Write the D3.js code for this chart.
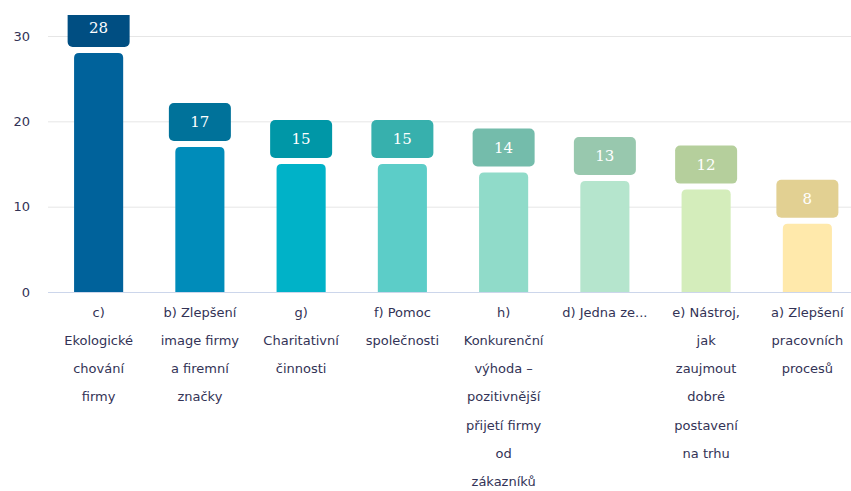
<!DOCTYPE html>
<html><head><meta charset="utf-8">
<script src="https://cdn.jsdelivr.net/npm/d3@7"></script>
<style>body{margin:0;background:#fff}svg{display:block}</style>
</head><body>
<svg id="c" width="851" height="491"></svg>
<script>
const categories = [
  "c)\nEkologické\nchování\nfirmy",
  "b) Zlepšení\nimage firmy\na firemní\nznačky",
  "g)\nCharitativní\nčinnosti",
  "f) Pomoc\nspolečnosti",
  "h)\nKonkurenční\nvýhoda –\npozitivnější\npřijetí firmy\nod\nzákazníků",
  "d) Jedna ze...",
  "e) Nástroj,\njak\nzaujmout\ndobré\npostavení\nna trhu",
  "a) Zlepšení\npracovních\nprocesů"
];
const values = [28, 17, 15, 15, 14, 13, 12, 8];
const barColors = ["#00629b", "#008cba", "#00b2c8", "#5ccdc8", "#90dbc9", "#b5e5cd", "#d4edbb", "#ffe9ab"];
const boxColors = ["#004e82", "#00729a", "#0097a7", "#37b0ad", "#74bcab", "#98c8ae", "#b5cf9c", "#e2d092"];
const yTicks = [0, 10, 20, 30];

const svg = d3.select("#c");
const x = d3.scaleBand().domain(categories).range([48, 858]).paddingInner(0.515).paddingOuter(0.2575);
const y = d3.scaleLinear().domain([0, 30]).range([292, 36]);

svg.append("defs").append("clipPath").attr("id", "clip")
  .append("rect").attr("x", 48).attr("y", 15).attr("width", 810).attr("height", 300);

// grid
svg.append("g").selectAll("line").data(yTicks.filter(d => d > 0)).join("line")
  .attr("x1", 48).attr("x2", 851).attr("y1", d => y(d) + 0.5).attr("y2", d => y(d) + 0.5)
  .attr("stroke", "#e6e6e6").attr("stroke-width", 1);

// y labels
svg.append("g").selectAll("text").data(yTicks).join("text")
  .attr("x", 30).attr("y", d => y(d)).attr("dy", "0.35em").attr("text-anchor", "end")
  .attr("font-family", "'DejaVu Sans', sans-serif").attr("font-size", 13).attr("fill", "#333356")
  .text(d => d);

const g = svg.append("g").attr("clip-path", "url(#clip)");
const r = 5;
// bars with rounded top corners
g.selectAll("path.bar").data(values).join("path").attr("class", "bar")
  .attr("fill", (d, i) => barColors[i])
  .attr("d", (d, i) => {
    const x0 = x(categories[i]), w = x.bandwidth(), yt = y(d), yb = y(0);
    return `M${x0},${yb}V${yt + r}Q${x0},${yt} ${x0 + r},${yt}H${x0 + w - r}Q${x0 + w},${yt} ${x0 + w},${yt + r}V${yb}Z`;
  });

// label boxes
const bw = 62, bh = 38, gap = 6;
g.selectAll("rect.box").data(values).join("rect").attr("class", "box")
  .attr("x", (d, i) => x(categories[i]) + x.bandwidth() / 2 - bw / 2)
  .attr("y", d => y(d) - gap - bh)
  .attr("width", bw).attr("height", bh).attr("rx", 5)
  .attr("fill", (d, i) => boxColors[i]);
g.selectAll("text.val").data(values).join("text").attr("class", "val")
  .attr("x", (d, i) => x(categories[i]) + x.bandwidth() / 2)
  .attr("y", d => y(d) - gap - bh / 2).attr("dy", "0.36em")
  .attr("text-anchor", "middle").attr("fill", "#fff")
  .attr("font-family", "'DejaVu Serif', serif").attr("font-size", 15)
  .text(d => d);

// baseline
svg.append("line").attr("x1", 48).attr("x2", 851).attr("y1", y(0) + 0.5).attr("y2", y(0) + 0.5)
  .attr("stroke", "#ccd6eb").attr("stroke-width", 1);

// x labels
const xl = svg.append("g").selectAll("text").data(categories).join("text")
  .attr("x", d => x(d) + x.bandwidth() / 2).attr("y", 312)
  .attr("text-anchor", "middle").attr("font-family", "'DejaVu Sans', sans-serif")
  .attr("font-size", 13).attr("fill", "#333356");
xl.each(function (d) {
  const t = d3.select(this);
  d.split("\n").forEach((line, k) => {
    t.append("tspan").attr("x", t.attr("x")).attr("y", 312 + k * 28.3).attr("dy", "0.35em").text(line);
  });
});
</script>
</body></html>
